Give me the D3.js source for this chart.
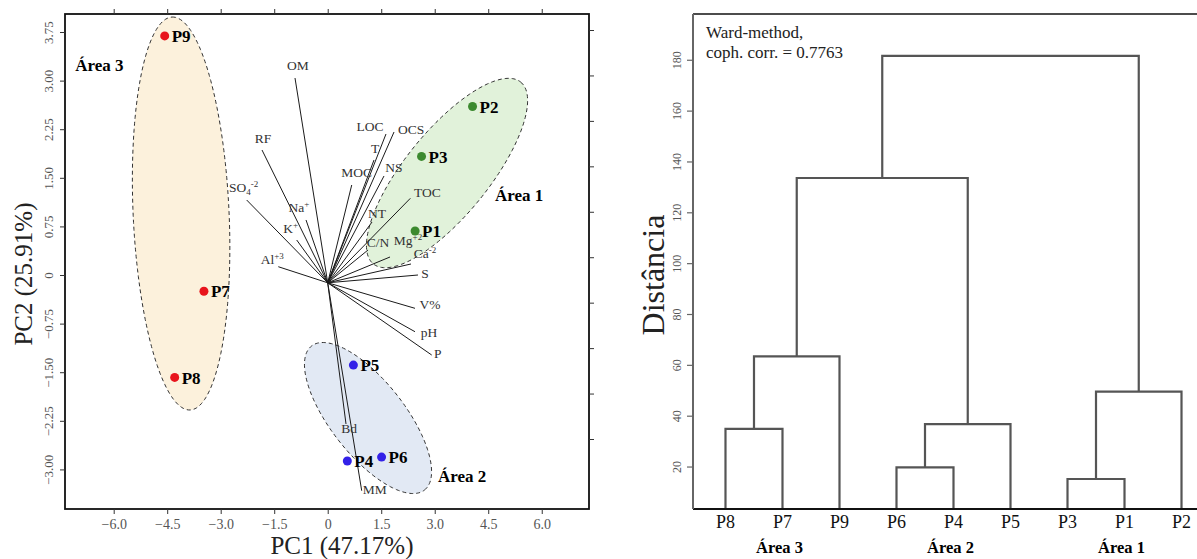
<!DOCTYPE html>
<html><head><meta charset="utf-8">
<script src="https://cdn.jsdelivr.net/npm/d3@7"></script>
<style>
body{margin:0;background:#fff;}
svg{display:block;font-family:"Liberation Serif","Times New Roman",serif;}
</style></head><body>
<svg id="chart" width="1197" height="559"></svg>
<script>
// ---- PCA scores of the sampling points ----
const sites = ["P1","P2","P3","P4","P5","P6","P7","P8","P9"];
const pc1 = [2.45, 4.06, 2.63, 0.55, 0.72, 1.51, -3.47, -4.29, -4.57];
const pc2 = [0.68, 2.60, 1.83, -2.87, -1.39, -2.81, -0.25, -1.58, 3.69];
const siteArea = [1, 1, 1, 2, 2, 2, 3, 3, 3];

// ---- variable loadings (biplot vectors) ----
const variables = ["OM","RF","SO4","Na","K","Al","LOC","OCS","T","NS","MOC","TOC","NT","C/N","Mg","Ca","S","V%","pH","P","Bd","MM"];
const loadX = [-0.917, -1.842, -2.271, -0.608, -0.869, -1.385, 1.634, 1.859, 1.298, 1.578, 0.673, 2.317, 1.242, 1.130, 1.747, 2.335, 2.531, 2.447, 2.447, 2.916, 0.513, 0.953];
const loadY = [3.040, 1.929, 1.157, 0.849, 0.540, 0.128, 2.176, 2.207, 1.775, 1.528, 1.389, 1.184, 0.818, 0.386, 0.278, 0.170, 0.000, -0.514, -0.875, -1.235, -2.299, -3.329];
const loadingOrigin = [0, -0.12];

// ---- group ellipses (centre and conjugate semi-axes, in PC units) ----
const areaNames = ["Área 1", "Área 2", "Área 3"];
const ellipseCenter = [[3.345, 1.574], [1.13, -2.207], [-4.11, 0.949]];
const ellipseAxisU = [[2.066, 1.403], [1.584, -1.111], [-0.252, 3.032]];
const ellipseAxisV = [[0.914, -0.409], [0.816, 0.352], [1.343, 0.034]];

const pcTicksX = [-6, -4.5, -3, -1.5, 0, 1.5, 3, 4.5, 6];
const pcTicksY = [-3, -2.25, -1.5, -0.75, 0, 0.75, 1.5, 2.25, 3, 3.75];
const loadTicks = [-0.8, -0.6, -0.4, -0.2, 0, 0.2, 0.4, 0.6, 0.8, 1.0];

// ---- Ward clustering ----
const leafOrder = ["P8","P7","P9","P6","P4","P5","P3","P1","P2"];
const mergeIds = ["m1","m2","m3","m4","m5","m6","m7","m8"];
const mergeLeft = ["P8","m1","P6","m3","P3","m5","m2","m7"];
const mergeRight = ["P7","P9","P4","P5","P1","P2","m4","m6"];
const mergeHeight = [34.8, 63.3, 19.7, 36.7, 15.1, 49.5, 133.5, 181.5];
const distTicks = [20, 40, 60, 80, 100, 120, 140, 160, 180];
const clusterNames = ["Área 3", "Área 2", "Área 1"];
const clusterMidLeaf = ["P7", "P4", "P1"];

const svg = d3.select("#chart");
const serif = '"Liberation Serif","Times New Roman",serif';

const areaFill = {1: "#e1f2da", 2: "#e2e9f4", 3: "#fcf1dc"};
const areaDot = {1: "#3c8a2f", 2: "#3321e8", 3: "#e8141c"};

// ================= left panel: PCA biplot =================
const L = {left: 65, right: 589, top: 14, bottom: 509};
const x = d3.scaleLinear().domain([-7.365, 7.325]).range([L.left, L.right]);
const y = d3.scaleLinear().domain([-3.611, 4.028]).range([L.bottom, L.top]);
const yLoad = d3.scaleLinear().domain([-0.8, 1.0]).range([439, 30]);

const pc = svg.append("g");

// ellipses
const ell = d3.range(3).map(i => {
  const c = ellipseCenter[i], u = ellipseAxisU[i], v = ellipseAxisV[i];
  return d3.range(0, 2 * Math.PI, Math.PI / 90).map(t => [
    x(c[0] + Math.cos(t) * u[0] + Math.sin(t) * v[0]),
    y(c[1] + Math.cos(t) * u[1] + Math.sin(t) * v[1])
  ]);
});
const closed = d3.line().curve(d3.curveLinearClosed);
pc.selectAll("path.ell").data(ell).join("path")
  .attr("class", "ell")
  .attr("d", closed)
  .attr("fill", (d, i) => areaFill[i + 1])
  .attr("stroke", "#333")
  .attr("stroke-width", 1)
  .attr("stroke-dasharray", "4,3");

// loading vectors
const ox = x(loadingOrigin[0]), oy = y(loadingOrigin[1]);
pc.selectAll("line.vec").data(variables).join("line")
  .attr("class", "vec")
  .attr("x1", ox).attr("y1", oy)
  .attr("x2", (d, i) => x(loadX[i])).attr("y2", (d, i) => y(loadY[i]))
  .attr("stroke", "#1a1a1a").attr("stroke-width", 1);

// label placement around each vector tip
const labelShift = {
  OM:[3,-8], RF:[1,-7], SO4:[-3,-8], Na:[-7,-8], K:[-6,-7], Al:[-6,-3],
  LOC:[-16,-3], OCS:[17,2], T:[1,-7], NS:[10,-4], MOC:[5,-8], TOC:[17,-1],
  NT:[5,-4], "C/N":[10,-3], Mg:[18,-12], Ca:[14,-6], S:[7,3], "V%":[15,1],
  pH:[14,5], P:[6,3], Bd:[3,9], MM:[13,3]
};
const richLabel = {
  SO4: [["SO",""],["4","sub"],["-2","sup"]],
  Na: [["Na",""],["+","sup"]],
  K: [["K",""],["+","sup"]],
  Al: [["Al",""],["+3","sup"]],
  Mg: [["Mg",""],["+2","sup"]],
  Ca: [["Ca",""],["-2","sup"]]
};
variables.forEach((name, i) => {
  const s = labelShift[name];
  const t = pc.append("text")
    .attr("x", x(loadX[i]) + s[0]).attr("y", y(loadY[i]) + s[1])
    .attr("dy", "0.35em")
    .attr("text-anchor", "middle")
    .attr("font-size", 13.5)
    .attr("fill", "#333");
  const parts = richLabel[name] || [[name, ""]];
  let shift = 0;
  parts.forEach(([txt, kind]) => {
    const target = kind === "sup" ? -5 : kind === "sub" ? 3 : 0;
    t.append("tspan")
      .attr("dy", target - shift)
      .attr("font-size", kind ? 9 : 13.5)
      .text(txt);
    shift = target;
  });
});

// sampling points
pc.selectAll("circle.site").data(sites).join("circle")
  .attr("class", "site")
  .attr("cx", (d, i) => x(pc1[i])).attr("cy", (d, i) => y(pc2[i]))
  .attr("r", 4.5)
  .attr("fill", (d, i) => areaDot[siteArea[i]]);
pc.selectAll("text.site").data(sites).join("text")
  .attr("class", "site")
  .attr("x", (d, i) => x(pc1[i]) + 7).attr("y", (d, i) => y(pc2[i]))
  .attr("dy", "0.36em")
  .attr("font-size", 17).attr("font-weight", "bold")
  .text(d => d);

// area captions
const areaCaptionAt = {"Área 1": [4.69, 1.14], "Área 2": [3.09, -3.19], "Área 3": [-7.08, 3.15]};
areaNames.forEach(n => {
  pc.append("text")
    .attr("x", x(areaCaptionAt[n][0])).attr("y", y(areaCaptionAt[n][1]))
    .attr("font-size", 17).attr("font-weight", "bold")
    .text(n);
});

// frame
pc.append("rect")
  .attr("x", L.left).attr("y", L.top)
  .attr("width", L.right - L.left).attr("height", L.bottom - L.top)
  .attr("fill", "none").attr("stroke", "#111").attr("stroke-width", 1.8);

const fmtX = v => v === 0 ? "0" : d3.format(".1f")(v);
const fmtY = v => v === 0 ? "0" : d3.format(".2f")(v);

const gx = pc.append("g").attr("transform", `translate(0,${L.bottom})`)
  .call(d3.axisBottom(x).tickValues(pcTicksX).tickFormat(fmtX).tickSize(5).tickPadding(5));
const gxTop = pc.append("g").attr("transform", `translate(0,${L.top})`)
  .call(d3.axisTop(x).tickValues(pcTicksX).tickFormat("").tickSize(5));
const gy = pc.append("g").attr("transform", `translate(${L.left},0)`)
  .call(d3.axisLeft(y).tickValues(pcTicksY).tickFormat(fmtY).tickSize(5));
const gyR = pc.append("g").attr("transform", `translate(${L.right},0)`)
  .call(d3.axisRight(yLoad).tickValues(loadTicks).tickFormat("").tickSize(5));

[gx, gxTop, gy, gyR].forEach(g => {
  g.select(".domain").remove();
  g.selectAll(".tick line").attr("stroke", "#333");
  g.selectAll("text").attr("font-family", serif).attr("fill", "#555");
});
gx.selectAll("text").attr("font-size", 14);
gy.selectAll("text")
  .attr("font-size", 13)
  .attr("x", null).attr("dy", null)
  .attr("text-anchor", "middle")
  .attr("transform", "translate(-12,0) rotate(-90)");

pc.append("text")
  .attr("x", 342).attr("y", 554)
  .attr("text-anchor", "middle").attr("font-size", 25).attr("fill", "#222")
  .text("PC1 (47.17%)");
pc.append("text")
  .attr("transform", "translate(32,274) rotate(-90)")
  .attr("text-anchor", "middle").attr("font-size", 25).attr("fill", "#222")
  .text("PC2 (25.91%)");

// ================= right panel: dendrogram =================
const R = {left: 693, right: 1214, top: 14, bottom: 509};
const dx = d3.scalePoint().domain(leafOrder).range([R.left, R.right]).padding(0.57);
const dy = d3.scaleLinear().domain([3.3, 198]).range([R.bottom, R.top]);

const dg = svg.append("g");
const node = {};
leafOrder.forEach(n => { node[n] = {x: dx(n), y: R.bottom}; });
mergeIds.forEach((id, i) => {
  const a = node[mergeLeft[i]], b = node[mergeRight[i]];
  node[id] = {x: (a.x + b.x) / 2, y: dy(mergeHeight[i]), a, b};
});
dg.selectAll("path.link").data(mergeIds).join("path")
  .attr("class", "link")
  .attr("d", id => {
    const n = node[id];
    return `M${n.a.x},${n.a.y}V${n.y}H${n.b.x}V${n.b.y}`;
  })
  .attr("fill", "none").attr("stroke", "#555").attr("stroke-width", 2.2);

// frame lines
dg.append("line").attr("x1", R.left).attr("x2", R.right).attr("y1", R.top).attr("y2", R.top)
  .attr("stroke", "#111").attr("stroke-width", 1.5);
dg.append("line").attr("x1", R.left).attr("x2", R.right).attr("y1", R.bottom).attr("y2", R.bottom)
  .attr("stroke", "#111").attr("stroke-width", 2.2);
dg.append("line").attr("x1", R.left).attr("x2", R.left).attr("y1", R.top).attr("y2", R.bottom)
  .attr("stroke", "#666").attr("stroke-width", 2);

const gd = dg.append("g").attr("transform", `translate(${R.left},0)`)
  .call(d3.axisLeft(dy).tickValues(distTicks).tickSize(6));
gd.select(".domain").remove();
gd.selectAll(".tick line").attr("stroke", "#666").attr("stroke-width", 1.2);
gd.selectAll("text")
  .attr("font-family", serif).attr("font-size", 12).attr("fill", "#555")
  .attr("x", null).attr("dy", null)
  .attr("text-anchor", "middle")
  .attr("transform", "translate(-12,0) rotate(-90)");

dg.selectAll("text.leaf").data(leafOrder).join("text")
  .attr("class", "leaf")
  .attr("x", d => dx(d)).attr("y", 528)
  .attr("text-anchor", "middle").attr("font-size", 18).attr("fill", "#111")
  .text(d => d);
dg.selectAll("text.cluster").data(clusterNames).join("text")
  .attr("class", "cluster")
  .attr("x", (d, i) => dx(clusterMidLeaf[i]) - 3).attr("y", 553)
  .attr("text-anchor", "middle").attr("font-size", 16.5).attr("font-weight", "bold")
  .text(d => d);

dg.append("text")
  .attr("transform", "translate(664,275) rotate(-90)")
  .attr("text-anchor", "middle").attr("font-size", 32).attr("fill", "#222")
  .text("Distância");

dg.append("text").attr("x", 706).attr("y", 38).attr("font-size", 17).attr("fill", "#222")
  .text("Ward-method,");
dg.append("text").attr("x", 706).attr("y", 58).attr("font-size", 17).attr("fill", "#222")
  .text("coph. corr. = 0.7763");
</script>
</body></html>
